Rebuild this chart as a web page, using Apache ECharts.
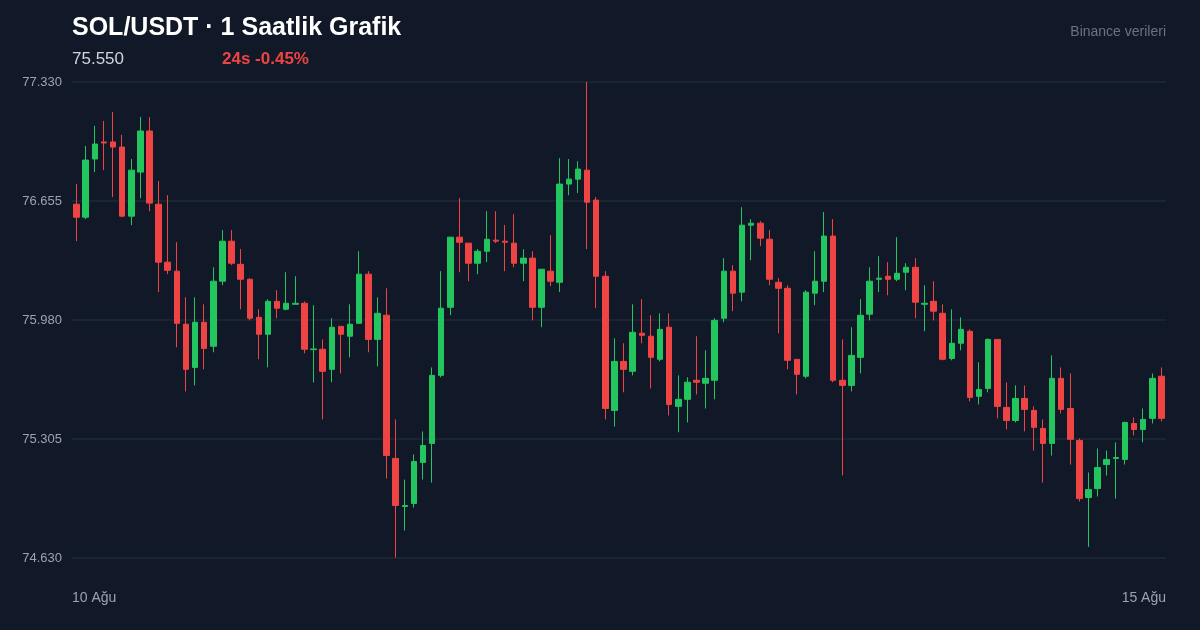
<!DOCTYPE html>
<html><head><meta charset="utf-8">
<script src="https://cdn.jsdelivr.net/npm/echarts@6/dist/echarts.min.js"></script>
<style>html,body{margin:0;padding:0;background:#111827;}#c{width:1200px;height:630px;}</style>
</head><body><div id="c"></div>
<script>
// [open, close, low, high]
const candles = [
[76.637,76.563,76.427,76.751],[76.563,76.887,76.552,76.967],[76.893,76.978,76.819,77.081],[76.990,76.984,76.830,77.108],
[76.990,76.961,76.677,77.160],[76.961,76.569,76.563,77.030],[76.569,76.830,76.518,76.893],[76.819,77.052,76.671,77.131],
[77.052,76.643,76.597,77.131],[76.637,76.308,76.138,76.768],[76.308,76.262,76.240,76.688],[76.257,75.961,75.825,76.421],
[75.956,75.700,75.575,76.109],[75.711,75.967,75.609,76.109],[75.967,75.819,75.700,76.069],[75.831,76.200,75.797,76.279],
[76.200,76.427,76.177,76.490],[76.427,76.302,76.291,76.490],[76.296,76.211,76.041,76.382],[76.211,75.990,75.978,76.217],
[75.995,75.899,75.757,76.041],[75.899,76.086,75.711,76.098],[76.086,76.047,75.990,76.149],[76.041,76.075,76.035,76.251],
[76.069,76.075,76.069,76.228],[76.075,75.814,75.791,76.086],[75.812,75.816,75.626,76.064],[75.814,75.689,75.416,75.870],
[75.700,75.939,75.627,75.990],[75.944,75.899,75.677,75.944],[75.888,75.956,75.768,76.069],[75.961,76.240,75.961,76.370],
[76.240,75.870,75.797,76.257],[75.870,76.018,75.717,76.109],[76.007,75.211,75.081,76.160],[75.195,74.928,74.632,75.416],
[74.922,74.928,74.786,75.075],[74.939,75.177,74.916,75.217],[75.172,75.268,75.075,75.348],[75.280,75.666,75.058,75.711],
[75.666,76.047,75.655,76.257],[76.052,76.450,76.007,76.450],[76.450,76.421,76.251,76.671],[76.416,76.302,76.200,76.416],
[76.302,76.370,76.240,76.382],[76.370,76.438,76.308,76.597],[76.433,76.427,76.416,76.597],[76.427,76.421,76.257,76.518],
[76.416,76.302,76.279,76.580],[76.302,76.331,76.200,76.382],[76.331,76.052,75.978,76.370],[76.052,76.268,75.939,76.268],
[76.257,76.200,76.172,76.461],[76.194,76.751,76.138,76.898],[76.751,76.779,76.688,76.893],[76.779,76.836,76.700,76.881],
[76.830,76.648,76.382,77.330],[76.660,76.228,76.047,76.677],[76.228,75.478,75.416,76.257],[75.467,75.745,75.376,75.876],
[75.745,75.700,75.570,75.848],[75.689,75.910,75.666,76.069],[75.905,75.893,75.848,76.098],[75.888,75.768,75.592,76.007],
[75.757,75.927,75.745,76.018],[75.939,75.501,75.439,76.018],[75.490,75.530,75.343,75.666],[75.530,75.627,75.399,75.655],
[75.638,75.627,75.558,75.888],[75.621,75.649,75.478,75.808],[75.638,75.978,75.530,75.990],[75.990,76.257,75.967,76.331],
[76.257,76.132,76.030,76.291],[76.138,76.518,76.086,76.620],[76.518,76.529,76.319,76.552],[76.529,76.444,76.399,76.541],
[76.438,76.211,76.177,76.490],[76.194,76.160,75.905,76.217],[76.160,75.751,75.700,76.177],[75.757,75.672,75.558,75.757],
[75.661,76.138,75.649,76.149],[76.132,76.200,76.064,76.370],[76.200,76.456,76.138,76.592],[76.456,75.638,75.627,76.552],
[75.638,75.609,75.098,75.870],[75.609,75.779,75.575,75.939],[75.768,76.007,75.677,76.098],[76.013,76.200,75.978,76.279],
[76.211,76.217,76.138,76.342],[76.228,76.211,76.120,76.308],[76.211,76.245,76.200,76.450],[76.251,76.279,76.149,76.302],
[76.279,76.081,75.990,76.331],[76.069,76.075,75.916,76.177],[76.086,76.030,75.978,76.200],[76.018,75.757,75.751,76.069],
[75.762,75.848,75.751,76.041],[75.848,75.927,75.808,75.995],[75.916,75.541,75.518,75.927],[75.547,75.586,75.501,75.740],
[75.592,75.870,75.570,75.876],[75.870,75.490,75.422,75.870],[75.484,75.410,75.359,75.626],[75.410,75.535,75.399,75.609],
[75.535,75.473,75.348,75.609],[75.467,75.371,75.240,75.490],[75.365,75.280,75.058,75.416],[75.280,75.649,75.211,75.779],
[75.649,75.473,75.450,75.711],[75.478,75.303,75.160,75.677],[75.297,74.967,74.950,75.308],[74.973,75.018,74.693,75.115],
[75.024,75.143,74.979,75.251],[75.160,75.189,75.098,75.240],[75.194,75.200,74.967,75.286],[75.189,75.399,75.160,75.404],
[75.393,75.359,75.325,75.427],[75.359,75.416,75.286,75.478],[75.422,75.649,75.393,75.677],[75.661,75.422,75.404,75.711]
];
const yTicks = [74.630, 75.305, 75.980, 76.655, 77.330];
const xEdgeLabels = ['10 Ağu', '15 Ağu'];
const categories = candles.map((_, i) => 'h' + i);

const chart = echarts.init(document.getElementById('c'));
chart.setOption({
  backgroundColor: '#111827',
  animation: false,
  grid: {left: 72, right: 34, top: 82, bottom: 72},
  graphic: [
    {type:'text', left:72, top:16, style:{text:'SOL/USDT · 1 Saatlik Grafik', fill:'#ffffff', font:'bold 25px "Liberation Sans", Arial, sans-serif'}},
    {type:'text', left:72, top:51, style:{text:'75.550', fill:'#d1d5db', font:'17px "Liberation Sans", Arial, sans-serif'}},
    {type:'text', left:222, top:51, style:{text:'24s -0.45%', fill:'#ef4444', font:'bold 17px "Liberation Sans", Arial, sans-serif'}},
    {type:'text', right:34, top:25, style:{text:'Binance verileri', fill:'#6b7280', font:'14px "Liberation Sans", Arial, sans-serif'}},
    {type:'text', left:72, top:591, style:{text:xEdgeLabels[0], fill:'#9ca3af', font:'14px "Liberation Sans", Arial, sans-serif'}},
    {type:'text', right:34, top:591, style:{text:xEdgeLabels[1], fill:'#9ca3af', font:'14px "Liberation Sans", Arial, sans-serif'}}
  ],
  xAxis: {type:'category', data: categories, boundaryGap: true,
    axisLine:{show:false}, axisTick:{show:false}, axisLabel:{show:false}, splitLine:{show:false}},
  yAxis: {type:'value', min: yTicks[0], max: yTicks[yTicks.length-1], interval: 0.675,
    axisLine:{show:false}, axisTick:{show:false},
    splitLine:{lineStyle:{color:'#1f2a37', width:1.5}},
    axisLabel:{color:'#9ca3af', fontSize:13, margin:10, fontFamily:'"Liberation Sans", Arial, sans-serif',
      formatter: v => v.toFixed(3)}},
  series: [{type:'candlestick', data: candles, barWidth: 6,
    itemStyle:{color:'#22c55e', color0:'#ef4444', borderColor:'#22c55e', borderColor0:'#ef4444', borderWidth:1}}]
});
</script></body></html>
